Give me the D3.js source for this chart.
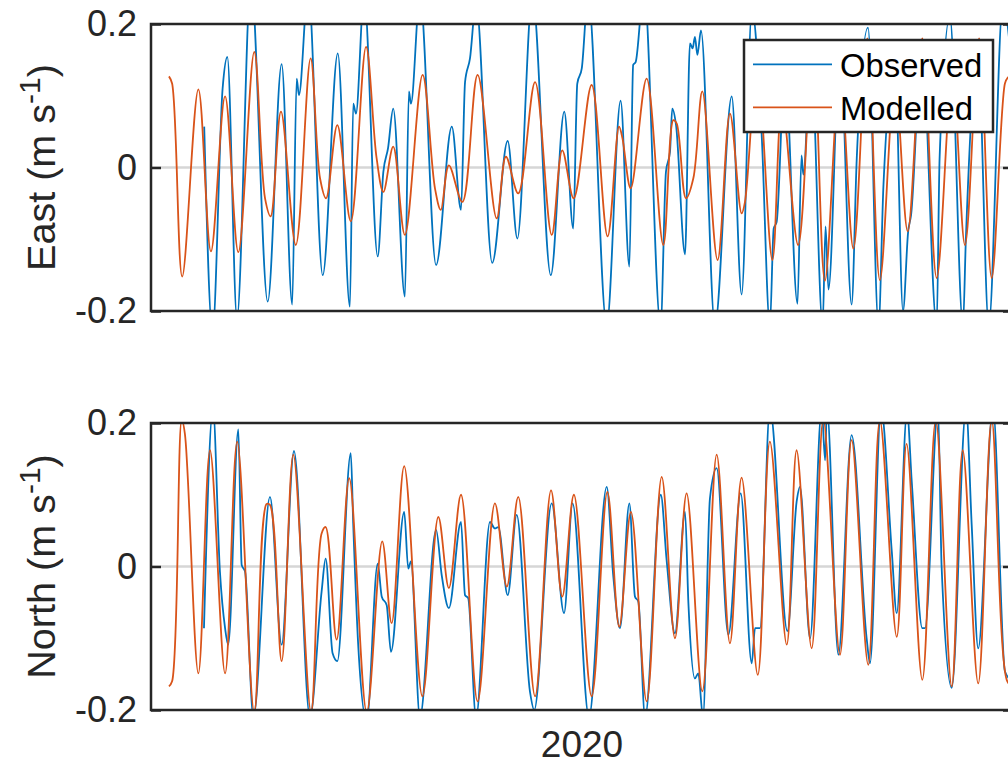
<!DOCTYPE html>
<html lang="en">
<head>
<meta charset="UTF-8">
<title>East and North velocity</title>
<script src="https://d3js.org/d3.v7.min.js"></script>
<style>
  body { margin: 0; background: #fff; }
  svg { display: block; font-family: "Liberation Sans", Arial, Helvetica, sans-serif; }
</style>
</head>
<body>
<svg id="chart" width="1008" height="765"></svg>
<script>
// [hours since 2019-12-24 00:00 UTC, velocity m/s]
const eastObserved = [[23.7,0.057],[27.4,-0.23],[31.9,0.110],[34.0,0.154],[38.3,-0.21],[44.5,0.26],[52.0,-0.187],[58.2,0.144],[62.9,-0.191],[64.9,0.124],[65.9,0.101],[70.0,0.25],[76.5,-0.150],[83.2,0.159],[88.6,-0.194],[90.1,0.089],[91.3,0.075],[94.9,0.24],[101.0,-0.124],[103.5,-0.006],[105.6,0.027],[107.9,0.082],[113.1,-0.18],[114.9,0.106],[115.8,0.089],[119.8,0.24],[127.0,-0.136],[134.0,0.057],[138.1,-0.059],[139.9,0.119],[142.1,0.152],[144.8,0.23],[152.0,-0.133],[158.9,0.037],[163.2,-0.099],[169.9,0.24],[178.1,-0.150],[184.1,0.078],[188.1,-0.085],[189.9,0.117],[191.9,0.138],[194.7,0.24],[203.0,-0.22],[209.2,0.093],[213.1,-0.138],[214.8,0.143],[215.9,0.147],[219.6,0.25],[227.0,-0.22],[229.4,-0.006],[231.2,0.022],[232.2,0.082],[233.9,0.059],[237.9,-0.121],[240.1,0.173],[241.3,0.166],[242.3,0.182],[243.4,0.157],[245.0,0.191],[251.2,-0.22],[258.7,0.099],[263.1,-0.177],[267.7,0.22],[272.0,0.048],[275.7,-0.22],[277.4,-0.085],[278.7,-0.076],[282.4,0.14],[288.0,-0.19],[289.8,0.017],[290.6,-0.01],[294.0,0.16],[299.2,-0.22],[300.5,-0.082],[301.8,-0.17],[306.9,0.17],[312.1,-0.191],[314.4,0.013],[319.4,0.195],[324.1,-0.22],[326.3,-0.024],[331.4,0.15],[335.0,-0.2],[337.3,-0.089],[338.6,-0.066],[343.4,0.17],[350.0,-0.22],[351.3,0.013],[355.9,0.21],[361.7,-0.22],[363.0,-0.1],[368.4,0.16],[373.2,-0.22],[379.5,0.23],[384,0.12]];

const eastModelled = [[8.0,0.127],[9.4,0.117],[13.9,-0.152],[21.1,0.109],[26.7,-0.117],[33.0,0.099],[38.9,-0.118],[46.0,0.161],[50.8,-0.043],[53.3,-0.068],[57.9,0.078],[64.5,-0.108],[71.1,0.152],[75.3,-0.015],[78.0,-0.043],[83.0,0.059],[89.0,-0.075],[95.8,0.168],[100.5,0.013],[103.5,-0.034],[107.9,0.029],[113.1,-0.094],[121.0,0.129],[126.5,-0.029],[129.1,-0.059],[132.7,0.003],[138.7,-0.048],[145.5,0.129],[154.0,-0.071],[158.1,0.015],[163.6,-0.036],[171.1,0.119],[178.5,-0.094],[183.2,0.024],[188.3,-0.043],[196.3,0.115],[203.4,-0.096],[208.5,0.057],[210.0,0.041],[213.7,-0.029],[220.8,0.124],[228.2,-0.108],[232.7,0.066],[234.2,0.061],[238.3,-0.043],[241.6,-0.015],[245.6,0.106],[252.4,-0.129],[257.9,0.075],[263.1,-0.064],[264.6,-0.048],[270.0,0.14],[276.8,-0.129],[281.1,0.09],[288.3,-0.108],[294.9,0.17],[300.2,-0.158],[306.9,0.13],[312.9,-0.113],[319.1,0.18],[324.7,-0.157],[331.4,0.12],[337.1,-0.089],[343.6,0.18],[350.0,-0.154],[357.0,0.13],[362.6,-0.108],[368.9,0.18],[374.5,-0.154],[380.4,0.117],[381.6,0.125],[384,0.13]];

const northObserved = [[23.6,-0.086],[27.6,0.22],[30.7,-0.007],[33.0,-0.086],[34.4,-0.109],[38.9,0.191],[40.4,0.002],[41.9,-0.007],[45.6,-0.21],[53.0,0.097],[58.2,-0.109],[63.7,0.161],[70.8,-0.21],[76.0,-0.035],[77.8,0.011],[80.9,-0.121],[83.0,-0.132],[89.0,0.158],[90.1,0.058],[92.3,-0.109],[96.1,-0.215],[101.0,0.004],[102.8,-0.042],[105.0,-0.054],[106.9,-0.119],[112.8,0.076],[114.6,-0.003],[115.8,0.007],[119.8,-0.21],[127.0,0.051],[129.5,-0.012],[132.7,-0.058],[138.1,0.062],[139.9,-0.04],[141.3,-0.044],[144.8,-0.21],[151.0,0.062],[153.2,0.053],[154.7,0.055],[158.9,-0.04],[162.9,0.072],[168.8,-0.174],[170.7,-0.2],[178.5,0.088],[184.0,-0.065],[187.8,0.088],[195.1,-0.21],[203.0,0.111],[205.9,-0.012],[208.9,-0.086],[213.1,0.088],[215.6,-0.042],[217.1,-0.049],[220.1,-0.21],[227.1,0.1],[229.7,0.009],[233.4,-0.093],[237.9,0.076],[239.4,-0.051],[242.3,-0.156],[243.8,-0.149],[245.9,-0.21],[249.0,0.095],[252.0,0.137],[257.2,-0.095],[262.7,0.102],[267.6,-0.135],[269.1,-0.086],[271.3,-0.086],[275.7,0.22],[283.5,-0.09],[287.6,0.09],[289.1,0.111],[293.6,-0.1],[298.8,0.22],[300.3,0.148],[301.1,0.22],[306.2,-0.123],[312.1,0.183],[318.8,-0.1],[320.3,-0.135],[325.2,0.22],[330.0,0.021],[332.2,-0.065],[336.8,0.215],[338.9,0.118],[343.6,-0.086],[344.8,-0.086],[350.6,0.22],[352.2,0.0],[356.7,-0.169],[363.1,0.22],[365.6,0.058],[368.5,-0.114],[375.1,0.22],[380.4,-0.146],[383.5,-0.16]];

const northModelled = [[8.0,-0.167],[9.4,-0.160],[13.7,0.205],[15.1,0.185],[21.1,-0.149],[26.3,0.162],[33.0,-0.149],[38.4,0.174],[46.0,-0.203],[51.5,0.087],[53.0,0.086],[58.2,-0.132],[63.4,0.156],[71.3,-0.203],[76.0,0.046],[77.8,0.055],[82.7,-0.102],[88.3,0.123],[96.1,-0.203],[103.0,0.035],[107.2,-0.079],[112.8,0.14],[120.9,-0.181],[128.0,0.069],[132.7,-0.030],[138.1,0.1],[145.5,-0.188],[153.2,0.088],[158.5,-0.028],[163.6,0.097],[171.1,-0.181],[178.2,0.106],[183.2,-0.042],[188.4,0.1],[196.3,-0.181],[203.3,0.104],[208.6,-0.084],[213.8,0.076],[220.8,-0.188],[227.5,0.125],[233.4,-0.1],[238.6,0.102],[245.6,-0.174],[252.0,0.156],[257.9,-0.107],[263.1,0.124],[270.3,-0.151],[275.7,0.174],[283.2,-0.109],[287.6,0.162],[294.3,-0.114],[299.5,0.205],[306.9,-0.123],[312.1,0.176],[319.5,-0.137],[324.7,0.204],[332.2,-0.098],[336.6,0.171],[343.6,-0.158],[349.6,0.204],[356.7,-0.167],[361.6,0.162],[368.5,-0.163],[374.5,0.204],[381.2,-0.158],[383.5,-0.168]];

const yTicks = [-0.2, 0, 0.2];
const seriesNames = ["Observed", "Modelled"];
const seriesColors = ["#0072BD", "#D95319"];
const xLabel = "2020";

const start = Date.UTC(2019, 11, 24);
const toDate = h => new Date(start + h * 3600e3);

const svg = d3.select("#chart");
const left = 151, right = 1013;
const axisColor = "#262626";

const panels = [
  { name: "East", top: 24, bottom: 311, obs: eastObserved, mod: eastModelled },
  { name: "North", top: 423, bottom: 710, obs: northObserved, mod: northModelled }
];

const x = d3.scaleUtc()
  .domain([toDate(0), toDate(384)])
  .range([left, right]);

panels.forEach((p, i) => {
  const y = d3.scaleLinear().domain([-0.2, 0.2]).range([p.bottom, p.top]);

  svg.append("clipPath").attr("id", "clip" + i)
    .append("rect")
    .attr("x", left).attr("y", p.top)
    .attr("width", right - left).attr("height", p.bottom - p.top);

  // zero line
  svg.append("line")
    .attr("x1", left).attr("x2", right)
    .attr("y1", y(0)).attr("y2", y(0))
    .attr("stroke", "#d6d6d6")
    .attr("stroke-width", 2.5);

  const curves = [d3.curveMonotoneX, d3.curveCatmullRom.alpha(0.5)];

  const g = svg.append("g").attr("clip-path", `url(#clip${i})`);
  [p.obs, p.mod].forEach((s, k) => {
    const line = d3.line()
      .x(d => x(toDate(d[0])))
      .y(d => y(d[1]))
      .curve(curves[k]);
    g.append("path")
      .datum(s)
      .attr("fill", "none")
      .attr("stroke", seriesColors[k])
      .attr("stroke-width", 1.8)
      .attr("stroke-linejoin", "round")
      .attr("d", line);
  });

  // y axes, ticks pointing inward
  svg.append("g")
    .attr("transform", `translate(${left},0)`)
    .call(d3.axisLeft(y).tickValues(yTicks).tickSize(-10).tickPadding(14)
      .tickFormat(d => d === 0 ? "0" : d.toFixed(1)))
    .call(a => a.select(".domain").remove())
    .call(a => a.selectAll("line").attr("stroke", axisColor).attr("stroke-width", 2.5))
    .call(a => a.selectAll("text").attr("fill", axisColor)
      .attr("font-size", 36).attr("font-family", null));

  svg.append("g")
    .attr("transform", `translate(${right},0)`)
    .call(d3.axisRight(y).tickValues(yTicks).tickSize(-10).tickFormat(""))
    .call(a => a.select(".domain").remove())
    .call(a => a.selectAll("line").attr("stroke", axisColor).attr("stroke-width", 2.5));

  svg.append("rect")
    .attr("x", left).attr("y", p.top)
    .attr("width", right - left).attr("height", p.bottom - p.top)
    .attr("fill", "none")
    .attr("stroke", axisColor)
    .attr("stroke-width", 2.5);

  const label = svg.append("text")
    .attr("transform", `translate(55,${(p.top + p.bottom) / 2}) rotate(-90)`)
    .attr("text-anchor", "middle")
    .attr("fill", axisColor)
    .attr("font-size", 39.6);
  label.append("tspan").text(p.name + " (m s");
  label.append("tspan").attr("font-size", 30).attr("dy", -15).text("-1");
  label.append("tspan").attr("dy", 15).text(")");
});

// legend
const legend = svg.append("g");
legend.append("rect")
  .attr("x", 744).attr("y", 40)
  .attr("width", 249).attr("height", 92)
  .attr("fill", "#fff")
  .attr("stroke", axisColor)
  .attr("stroke-width", 2.5);

seriesNames.forEach((name, k) => {
  const ly = 64.3 + k * 43;
  legend.append("line")
    .attr("x1", 753).attr("x2", 832)
    .attr("y1", ly).attr("y2", ly)
    .attr("stroke", seriesColors[k])
    .attr("stroke-width", 1.8);
  legend.append("text")
    .attr("x", 840).attr("y", ly + 12.4)
    .attr("font-size", 32.8)
    .attr("fill", "#000")
    .text(name);
});

svg.append("text")
  .attr("x", x(new Date(Date.UTC(2020, 0, 1))))
  .attr("y", 757)
  .attr("text-anchor", "middle")
  .attr("fill", axisColor)
  .attr("font-size", 37)
  .text(xLabel);
</script>
</body>
</html>
